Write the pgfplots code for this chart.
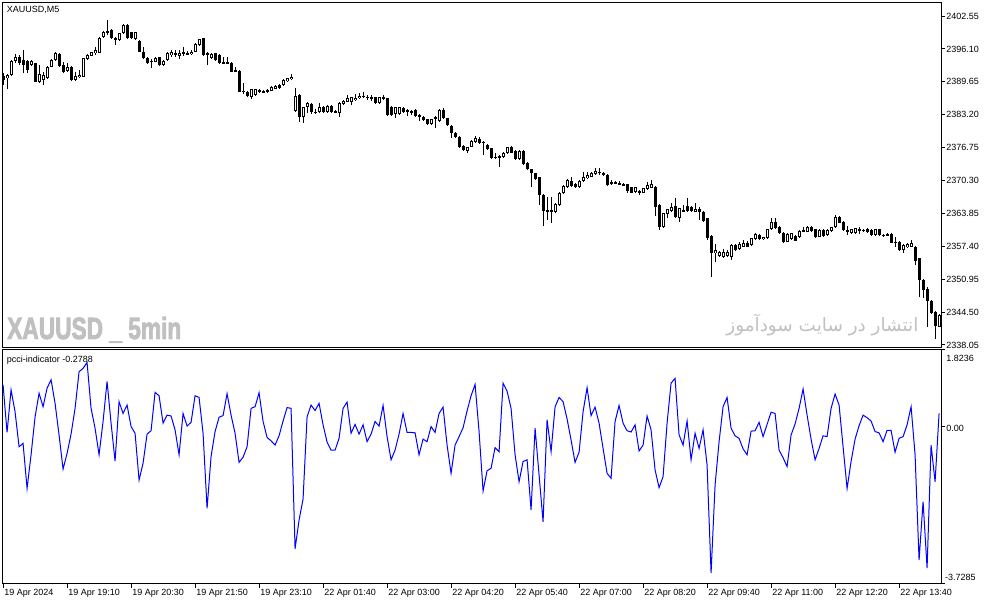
\documentclass[border=0pt]{standalone}
\usepackage{pgfplots}
\usepackage{pgfplotstable}
\usepackage{graphicx}
\pgfplotsset{compat=1.18}
\usepackage{fontspec}
\setmainfont{Liberation Sans}
\newfontfamily\wmfont{Liberation Sans Bold}[FakeBold=3]
\newfontfamily\arabicfont[Script=Arabic]{DejaVu Sans}
\TeXXeTstate=1

\definecolor{wm}{RGB}{192,192,192}
\definecolor{indblue}{RGB}{0,0,255}

% XAUUSD M5 candles: bar index, open, high, low, close
\pgfplotstableread{
i o h l c
0 2390.79 2391.31 2389.02 2390.00
1 2390.33 2391.18 2388.17 2390.98
2 2390.98 2393.86 2390.85 2393.73
3 2393.73 2395.10 2393.27 2394.58
4 2394.45 2394.91 2392.94 2393.27
5 2393.93 2395.89 2391.31 2392.94
6 2393.73 2393.93 2391.31 2391.96
7 2392.94 2393.93 2392.75 2393.73
8 2393.27 2393.40 2389.55 2389.68
9 2389.68 2392.94 2389.35 2391.18
10 2390.00 2391.64 2389.02 2390.98
11 2390.33 2392.75 2390.13 2392.62
12 2392.62 2394.06 2392.49 2393.93
13 2393.93 2395.43 2393.80 2395.23
14 2395.10 2395.30 2392.60 2392.75
15 2392.94 2393.60 2391.44 2391.64
16 2391.77 2393.40 2391.64 2392.62
17 2392.62 2392.75 2389.81 2390.00
18 2390.00 2391.64 2389.87 2390.79
19 2390.53 2391.96 2390.33 2390.98
20 2390.66 2394.38 2390.53 2394.25
21 2394.06 2395.10 2393.93 2394.91
22 2394.78 2395.56 2394.65 2395.43
23 2395.23 2396.54 2394.91 2395.89
24 2395.36 2398.43 2395.23 2398.30
25 2398.37 2399.61 2398.24 2399.48
26 2399.68 2401.77 2398.83 2399.15
27 2399.81 2399.94 2398.04 2398.17
28 2398.17 2398.37 2396.87 2397.98
29 2397.85 2399.28 2397.72 2399.15
30 2399.15 2400.92 2399.02 2400.79
31 2400.79 2400.92 2398.04 2398.17
32 2399.35 2399.48 2398.04 2398.17
33 2397.98 2399.48 2397.85 2399.35
34 2397.72 2397.85 2395.43 2395.56
35 2395.56 2396.54 2394.06 2394.25
36 2394.25 2394.58 2393.14 2393.27
37 2393.79 2394.06 2392.29 2393.60
38 2393.60 2394.58 2393.47 2394.38
39 2394.45 2394.58 2392.81 2392.94
40 2392.94 2393.93 2392.81 2393.79
41 2393.93 2395.49 2393.80 2395.36
42 2394.91 2395.89 2394.58 2395.43
43 2395.36 2395.89 2394.58 2395.04
44 2394.71 2395.89 2394.06 2395.36
45 2395.43 2396.54 2394.71 2395.10
46 2395.10 2395.60 2394.85 2395.30
47 2395.04 2395.80 2394.85 2395.56
48 2395.56 2397.19 2395.43 2397.06
49 2396.87 2398.11 2396.74 2397.98
50 2398.17 2398.30 2394.78 2394.91
51 2395.23 2395.43 2392.94 2394.91
52 2394.25 2395.23 2394.12 2395.10
53 2395.23 2395.36 2393.80 2393.93
54 2394.91 2395.04 2393.14 2393.27
55 2393.60 2394.45 2393.14 2393.27
56 2393.60 2394.45 2393.14 2393.27
57 2393.40 2393.53 2391.50 2391.64
58 2391.96 2392.49 2391.50 2391.64
59 2391.83 2391.96 2387.59 2387.72
60 2387.91 2389.35 2387.26 2387.65
61 2387.72 2387.85 2386.61 2386.87
62 2386.74 2388.30 2386.34 2388.17
63 2387.06 2388.30 2386.93 2388.17
64 2387.72 2388.24 2387.52 2388.04
65 2387.85 2388.04 2387.39 2387.59
66 2387.72 2388.24 2387.52 2388.04
67 2387.91 2388.83 2387.78 2388.70
68 2388.30 2388.96 2388.17 2388.83
69 2389.02 2389.15 2388.24 2388.37
70 2389.02 2390.13 2388.89 2390.00
71 2389.81 2390.46 2389.68 2390.33
72 2390.13 2391.18 2390.00 2390.66
73 2383.99 2388.36 2383.79 2386.86
74 2387.06 2387.20 2381.83 2382.68
75 2382.68 2384.80 2381.63 2384.64
76 2384.64 2385.75 2383.46 2385.42
77 2385.29 2385.45 2383.33 2383.79
78 2383.79 2384.25 2383.33 2383.59
79 2383.66 2385.42 2383.50 2384.64
80 2384.77 2384.95 2383.60 2383.79
81 2383.66 2385.05 2383.50 2384.90
82 2384.90 2385.05 2383.50 2383.66
83 2383.99 2384.15 2383.50 2383.66
84 2383.59 2385.70 2382.81 2385.55
85 2385.29 2386.10 2385.15 2385.95
86 2385.75 2387.06 2385.60 2386.40
87 2385.75 2386.75 2385.10 2386.60
88 2386.08 2387.20 2385.90 2386.53
89 2386.40 2387.38 2386.25 2386.93
90 2386.93 2387.58 2386.53 2386.73
91 2386.73 2387.06 2386.08 2386.60
92 2386.73 2387.06 2385.95 2386.21
93 2386.60 2386.75 2385.40 2385.55
94 2385.55 2386.75 2385.40 2386.60
95 2386.73 2387.06 2386.05 2386.21
96 2386.40 2386.55 2383.00 2383.14
97 2384.77 2384.90 2383.00 2383.14
98 2383.33 2384.80 2382.48 2384.64
99 2383.33 2384.80 2383.20 2384.64
100 2384.44 2384.77 2383.50 2383.66
101 2384.12 2384.30 2382.94 2383.79
102 2383.99 2384.15 2383.14 2383.66
103 2384.12 2384.30 2382.80 2382.94
104 2383.14 2383.30 2382.02 2382.68
105 2382.81 2382.95 2382.00 2382.16
106 2382.29 2382.45 2381.20 2381.37
107 2381.31 2382.45 2381.15 2382.29
108 2382.29 2382.85 2380.52 2382.68
109 2382.02 2384.30 2381.85 2384.12
110 2384.12 2384.44 2382.30 2382.48
111 2382.48 2382.60 2381.00 2381.18
112 2380.98 2381.10 2378.56 2379.54
113 2379.67 2379.87 2378.60 2378.76
114 2378.89 2379.05 2376.60 2376.93
115 2377.06 2377.20 2376.08 2376.27
116 2376.14 2376.95 2375.75 2376.80
117 2376.93 2378.25 2376.80 2378.10
118 2377.91 2379.02 2377.75 2378.56
119 2378.36 2378.76 2377.55 2377.71
120 2377.91 2378.05 2375.29 2377.71
121 2377.25 2377.40 2376.25 2376.40
122 2376.60 2376.75 2374.50 2374.64
123 2374.77 2375.62 2374.62 2374.97
124 2375.10 2375.25 2372.87 2374.77
125 2374.97 2375.90 2374.80 2375.75
126 2375.62 2376.95 2375.45 2376.80
127 2376.93 2377.10 2375.60 2375.75
128 2376.08 2376.20 2374.30 2374.44
129 2374.44 2376.20 2374.30 2376.08
130 2376.08 2376.20 2373.40 2373.53
131 2373.79 2373.95 2372.30 2372.48
132 2372.48 2372.60 2368.95 2371.70
133 2371.70 2371.85 2370.35 2370.52
134 2370.91 2371.05 2365.49 2367.45
135 2367.45 2367.60 2361.44 2364.38
136 2364.51 2367.12 2362.55 2364.31
137 2364.31 2367.12 2362.03 2364.51
138 2364.18 2365.85 2364.00 2365.69
139 2365.49 2367.95 2365.30 2367.78
140 2367.78 2369.35 2367.60 2369.21
141 2369.08 2370.55 2368.90 2370.39
142 2370.26 2371.04 2369.05 2369.21
143 2369.61 2369.75 2368.80 2368.95
144 2369.08 2370.40 2368.90 2370.26
145 2370.26 2372.02 2370.10 2371.04
146 2370.72 2372.02 2370.55 2371.37
147 2371.04 2371.95 2370.90 2371.83
148 2371.57 2372.68 2371.40 2372.22
149 2371.83 2372.68 2371.37 2372.02
150 2371.83 2372.00 2371.20 2371.37
151 2371.37 2371.50 2369.25 2369.41
152 2370.07 2370.40 2369.42 2369.74
153 2369.74 2370.25 2369.60 2370.07
154 2369.74 2370.27 2369.40 2369.55
155 2369.60 2369.75 2369.25 2369.42
156 2369.55 2369.70 2367.78 2368.31
157 2368.96 2369.10 2367.75 2367.91
158 2367.98 2369.10 2367.80 2368.96
159 2368.31 2368.45 2367.46 2367.98
160 2367.91 2368.90 2367.75 2368.76
161 2368.57 2370.07 2368.40 2369.42
162 2368.89 2370.40 2368.75 2369.55
163 2369.09 2369.25 2363.34 2365.17
164 2365.50 2365.65 2360.59 2361.12
165 2361.25 2364.00 2360.92 2363.86
166 2363.73 2364.80 2362.88 2364.65
167 2364.38 2365.82 2364.20 2365.17
168 2365.30 2366.80 2363.05 2363.21
169 2362.88 2365.00 2362.23 2364.84
170 2364.19 2365.50 2364.05 2364.52
171 2365.30 2366.80 2364.20 2364.38
172 2365.04 2365.20 2364.20 2364.38
173 2364.19 2365.82 2364.05 2364.65
174 2364.78 2365.04 2362.55 2364.12
175 2364.19 2364.35 2362.25 2362.42
176 2362.88 2363.00 2358.63 2358.96
177 2359.42 2359.55 2351.31 2356.15
178 2356.02 2357.78 2354.39 2356.67
179 2355.50 2356.50 2355.35 2356.35
180 2355.37 2356.80 2355.20 2356.35
181 2355.50 2356.67 2355.35 2356.35
182 2355.37 2357.80 2354.71 2357.65
183 2357.65 2357.80 2356.50 2356.67
184 2356.80 2358.31 2356.65 2357.85
185 2357.33 2358.63 2357.20 2358.11
186 2357.98 2358.50 2357.20 2357.33
187 2357.65 2359.10 2357.50 2358.96
188 2358.76 2359.95 2358.60 2359.81
189 2359.61 2359.75 2358.60 2358.76
190 2358.76 2359.30 2358.60 2359.16
191 2358.96 2360.85 2358.80 2360.72
192 2360.72 2362.88 2360.55 2362.23
193 2362.23 2362.88 2360.75 2360.92
194 2361.25 2361.40 2359.90 2360.07
195 2360.07 2360.20 2357.98 2358.31
196 2358.31 2359.95 2358.15 2359.81
197 2358.76 2360.10 2358.60 2359.94
198 2359.42 2359.55 2358.35 2358.50
199 2359.16 2360.55 2359.00 2360.40
200 2360.27 2361.25 2360.10 2360.59
201 2360.27 2361.40 2360.10 2361.25
202 2361.25 2361.40 2360.30 2360.46
203 2360.72 2360.85 2359.00 2359.16
204 2359.29 2360.75 2359.15 2360.59
205 2360.59 2360.75 2359.25 2359.42
206 2359.61 2360.75 2359.45 2360.59
207 2360.46 2361.25 2360.30 2361.12
208 2361.12 2363.54 2360.95 2363.08
209 2363.21 2363.35 2361.90 2362.03
210 2362.23 2362.42 2360.45 2360.59
211 2360.59 2361.38 2359.61 2360.27
212 2359.94 2360.85 2359.80 2360.72
213 2360.07 2361.05 2359.90 2360.92
214 2360.46 2361.25 2359.81 2360.72
215 2360.59 2360.75 2360.25 2360.40
216 2360.79 2360.95 2360.05 2360.20
217 2360.59 2360.75 2359.45 2359.61
218 2359.61 2360.85 2359.45 2360.72
219 2360.72 2360.85 2359.45 2359.61
220 2359.61 2359.75 2359.25 2359.42
221 2359.55 2359.95 2359.40 2359.81
222 2359.81 2359.95 2357.95 2358.11
223 2358.11 2359.16 2357.33 2358.31
224 2358.31 2358.45 2356.50 2356.67
225 2356.67 2357.80 2356.15 2357.65
226 2357.20 2358.00 2357.05 2357.85
227 2357.33 2358.63 2357.20 2357.98
228 2357.33 2357.45 2353.73 2354.58
229 2355.04 2355.20 2347.52 2350.79
230 2350.79 2350.95 2347.20 2348.83
231 2348.96 2349.35 2341.51 2346.74
232 2346.74 2346.90 2344.10 2344.25
233 2344.58 2344.75 2339.16 2341.77
234 2341.64 2344.10 2341.50 2343.93
}\candles

% pcci-indicator, one value per bar
\pgfplotstableread{
i v
0 0.99
1 -0.14
2 0.87
3 0.35
4 -0.48
5 -0.40
6 -1.47
7 -0.67
8 0.23
9 0.79
10 0.47
11 0.91
12 1.11
13 0.55
14 -0.20
15 -1.01
16 -0.64
17 -0.18
18 0.43
19 1.30
20 1.38
21 1.52
22 0.43
23 -0.04
24 -0.67
25 0.12
26 1.07
27 0.08
28 -0.82
29 0.59
30 0.31
31 0.51
32 0.00
33 -0.16
34 -1.27
35 -0.87
36 -0.18
37 -0.10
38 0.81
39 0.73
40 0.08
41 0.27
42 0.25
43 -0.08
44 -0.67
45 0.31
46 0.01
47 0.10
48 0.73
49 0.69
50 -0.16
51 -1.94
52 -0.71
53 -0.12
54 0.22
55 0.26
56 0.78
57 0.27
58 -0.16
59 -0.85
60 -0.73
61 -0.48
62 0.43
63 0.47
64 0.80
65 0.12
66 -0.26
67 -0.34
68 -0.44
69 -0.22
70 0.13
71 0.45
72 0.43
73 -2.90
74 -2.22
75 -1.72
76 0.23
77 0.51
78 0.38
79 0.55
80 0.04
81 -0.37
82 -0.56
83 -0.56
84 -0.28
85 0.43
86 0.58
87 -0.16
88 0.05
89 -0.18
90 0.04
91 -0.36
92 -0.18
93 0.12
94 0.01
95 0.50
96 -0.24
97 -0.79
98 -0.56
99 -0.18
100 0.31
101 -0.14
102 -0.14
103 -0.15
104 -0.67
105 -0.30
106 -0.36
107 0.00
108 -0.14
109 0.31
110 0.46
111 -0.44
112 -1.11
113 -0.44
114 -0.24
115 -0.03
116 0.37
117 0.73
118 1.00
119 -0.12
120 -1.53
121 -1.05
122 -0.99
123 -0.50
124 -0.60
125 1.03
126 0.84
127 0.43
128 -0.67
129 -1.31
130 -0.83
131 -0.79
132 -1.98
133 -0.04
134 -1.15
135 -2.26
136 0.16
137 -0.60
138 0.47
139 0.69
140 0.59
141 0.18
142 -0.32
143 -0.85
144 -0.61
145 0.35
146 0.92
147 0.26
148 0.46
149 0.08
150 -0.52
151 -1.11
152 -1.23
153 0.12
154 0.50
155 0.08
156 -0.10
157 -0.13
158 0.04
159 -0.58
160 -0.44
161 0.25
162 -0.08
163 -1.03
164 -1.45
165 -1.19
166 0.08
167 1.03
168 1.14
169 -0.20
170 -0.44
171 0.13
172 -0.79
173 -0.16
174 -0.52
175 -0.08
176 -0.91
177 -3.48
178 -1.39
179 -0.36
180 0.47
181 0.69
182 -0.04
183 -0.22
184 -0.28
185 -0.53
186 -0.67
187 -0.11
188 -0.10
189 0.10
190 -0.24
191 0.05
192 0.34
193 0.31
194 -0.56
195 -0.74
196 -0.95
197 -0.20
198 0.06
199 0.43
200 0.89
201 0.27
202 -0.30
203 -0.79
204 -0.52
205 -0.22
206 -0.24
207 0.43
208 0.77
209 0.51
210 -0.48
211 -1.47
212 -0.83
213 -0.30
214 0.02
215 0.27
216 0.21
217 0.13
218 -0.12
219 -0.15
220 -0.36
221 -0.09
222 -0.09
223 -0.61
224 -0.28
225 -0.24
226 0.04
227 0.47
228 -0.67
229 -3.17
230 -1.78
231 -3.36
232 -0.44
233 -1.31
234 0.31
}\pcci

\newcommand\lblfont{\fontsize{6.75}{8}\selectfont}

\pgfplotsset{
  mtpanel/.style={
    scale only axis,
    width=704.1pt,
    xmin=-0.1, xmax=234.6,
    axis line style={line width=0.75pt},
    tick style={black, line width=0.75pt},
    tick align=outside,
    major tick length=3pt,
    ytick pos=right,
    yticklabel pos=right,
    yticklabel style={font=\lblfont, anchor=west, inner sep=0pt, xshift=0.4pt},
  },
  candlewick/.style={draw=none, no markers, forget plot,
    error bars/.cd, y dir=both, y explicit, error mark=none,
    error bar style={draw=black, solid, line width=0.75pt}},
  candlebody/.style={draw=none, no markers, forget plot,
    error bars/.cd, y dir=both, y explicit, error mark=none,
    error bar style={draw=black, solid, line width=2.25pt}},
  candleinner/.style={draw=none, no markers, forget plot,
    error bars/.cd, y dir=both, y explicit, error mark=none,
    error bar style={draw=white, solid, line width=0.75pt}},
}

\begin{document}
\begin{tikzpicture}
\path (0,0) rectangle (740.25pt,453.75pt);

% watermarks
\node[anchor=base west, inner sep=0pt, text=wm] at (5.25pt,199.5pt)
  {\scalebox{0.74}[1]{\wmfont\fontsize{23}{26}\selectfont XAUUSD \_ 5min}};
\node[anchor=base east, inner sep=0pt, text=wm] at (689pt,205pt)
  {\arabicfont\fontsize{13.8}{16}\selectfont\beginR انتشار در سایت سودآموز\endR};

% price panel
\begin{axis}[mtpanel,
  at={(2pt,193pt)}, anchor=south west, height=258.7pt,
  ymin=2337.51, ymax=2405.16,
  xtick=\empty,
  ytick={2338.05,2344.50,2350.95,2357.40,2363.85,2370.30,2376.75,2383.20,2389.65,2396.10,2402.55},
  yticklabels={2338.05,2344.50,2350.95,2357.40,2363.85,2370.30,2376.75,2383.20,2389.65,2396.10,2402.55},
]
\addplot[candlewick] table[x=i, y expr={(\thisrow{h}+\thisrow{l})/2},
  y error expr={(\thisrow{h}-\thisrow{l})/2}] \candles;
\addplot[candlebody] table[x=i, y expr={(\thisrow{o}+\thisrow{c})/2},
  y error expr={max(abs(\thisrow{c}-\thisrow{o})/2,0.1)}] \candles;
\addplot[candleinner] table[x=i, y expr={(\thisrow{o}+\thisrow{c})/2},
  y error expr={max((\thisrow{c}-\thisrow{o})/2-0.196,0)}] \candles;
\end{axis}

% indicator panel
\begin{axis}[mtpanel,
  at={(2pt,16pt)}, anchor=south west, height=175.5pt,
  clip mode=individual,
  ymin=-3.7285, ymax=1.8236,
  xtick={0,16,...,224},
  xtick pos=lower,
  xticklabels={19 Apr 2024,19 Apr 19:10,19 Apr 20:30,19 Apr 21:50,19 Apr 23:10,
    22 Apr 01:40,22 Apr 03:00,22 Apr 04:20,22 Apr 05:40,22 Apr 07:00,
    22 Apr 08:20,22 Apr 09:40,22 Apr 11:00,22 Apr 12:20,22 Apr 13:40},
  xticklabel style={font=\lblfont, anchor=north west, inner sep=0pt, xshift=0.75pt, yshift=-1.3pt},
  ytick={-3.7285,0,1.8236},
  yticklabels={,0.00,},
  yticklabel style={yshift=-1.5pt},
]
\addplot[indblue, line width=0.75pt, mark=none] table[x=i, y=v] \pcci;
\node[anchor=north west, inner sep=0pt, font=\lblfont] at (rel axis cs:1,1) [xshift=3.4pt, yshift=-3.6pt] {1.8236};
\node[anchor=south west, inner sep=0pt, font=\lblfont] at (rel axis cs:1,0) [xshift=2.6pt, yshift=2.4pt] {-3.7285};
\end{axis}

\node[anchor=west, inner sep=0pt, font=\lblfont] at (5pt,446.3pt) {XAUUSD,M5};
\node[anchor=west, inner sep=0pt, font=\lblfont] at (5pt,183.8pt) {pcci-indicator -0.2788};
\end{tikzpicture}
\end{document}
